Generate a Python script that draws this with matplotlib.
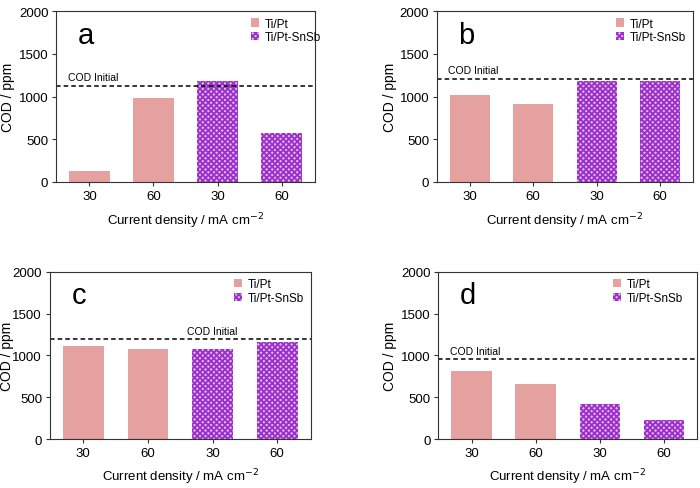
import numpy as np
import matplotlib.pyplot as plt
from matplotlib.patches import Patch

plt.rcParams['font.family'] = ['Liberation Sans', 'DejaVu Sans']
plt.rcParams['hatch.linewidth'] = 1.3

# x tick labels (current density, mA cm-2)
tick_labels = ['30', '60', '30', '60']
# bar anode type: first two Ti/Pt, last two Ti/Pt-SnSb
anode = ['Ti/Pt', 'Ti/Pt', 'Ti/Pt-SnSb', 'Ti/Pt-SnSb']

cod_a = [128, 979, 1188, 571]
cod_b = [1016, 918, 1183, 1183]
cod_c = [1115, 1080, 1076, 1162]
cod_d = [819, 659, 425, 230]

init_a = 1126
init_b = 1210
init_c = 1193
init_d = 959

panels = ['a', 'b', 'c', 'd']

pink = '#e5a0a0'
purple = '#9a30c8'
purple_bg = '#e2b8f0'

fig = plt.figure(figsize=(7, 4.89), dpi=100)
boxes = [[0.080, 0.626, 0.370, 0.349],
         [0.624, 0.626, 0.366, 0.349],
         [0.071, 0.100, 0.373, 0.342],
         [0.626, 0.100, 0.370, 0.342]]
data = [cod_a, cod_b, cod_c, cod_d]
inits = [init_a, init_b, init_c, init_d]
# x of "COD Initial" label (data coords) and alignment
txt_x = [-0.33, -0.35, 2.0, -0.33]
txt_ha = ['left', 'left', 'center', 'left']
ylab_x = [-0.158, -0.156, -0.138, -0.158]
leg_x = [1.05, 1.0, 1.0, 0.97]

x = np.arange(len(tick_labels))
for i in range(4):
    ax = fig.add_axes(boxes[i])
    for j in range(len(x)):
        if anode[j] == 'Ti/Pt':
            ax.bar(x[j], data[i][j], width=0.63, color=pink, edgecolor='none')
        else:
            ax.bar(x[j], data[i][j], width=0.63, facecolor=purple_bg,
                   edgecolor=purple, hatch='xxxxxx', linewidth=0)
    ax.axhline(inits[i], color='black', linestyle=(0, (3, 2)), linewidth=1.1)
    ax.text(txt_x[i], inits[i] + 40, 'COD Initial', fontsize=7.5, ha=txt_ha[i], va='bottom')
    ax.text(0.085, 0.86, panels[i], transform=ax.transAxes, fontsize=21, va='center')
    ax.set_xlim(-0.52, 3.52)
    ax.set_ylim(0, 2000)
    ax.set_yticks([0, 500, 1000, 1500, 2000])
    ax.set_xticks(x)
    ax.set_xticklabels(tick_labels)
    ax.tick_params(labelsize=9.5, length=3, width=0.8, color='#333333', pad=2.5)
    for s in ax.spines.values():
        s.set_linewidth(0.8)
        s.set_color('#333333')
    ax.set_ylabel('COD / ppm', fontsize=10)
    ax.yaxis.set_label_coords(ylab_x[i], 0.5)
    ax.set_xlabel('Current density / mA cm$^{-2}$', fontsize=9.5)
    ax.xaxis.set_label_coords(0.5, -0.165)
    handles = [Patch(facecolor=pink, edgecolor='none', label='Ti/Pt'),
               Patch(facecolor=purple_bg, edgecolor=purple, hatch='xxxxxx', linewidth=0, label='Ti/Pt-SnSb')]
    ax.legend(handles=handles, loc='upper right', bbox_to_anchor=(leg_x[i], 1.0),
              frameon=False, fontsize=8.5,
              handlelength=0.7, handleheight=0.7, handletextpad=0.5,
              labelspacing=0.15, borderaxespad=0.15)

fig.savefig('out.png', dpi=100)
